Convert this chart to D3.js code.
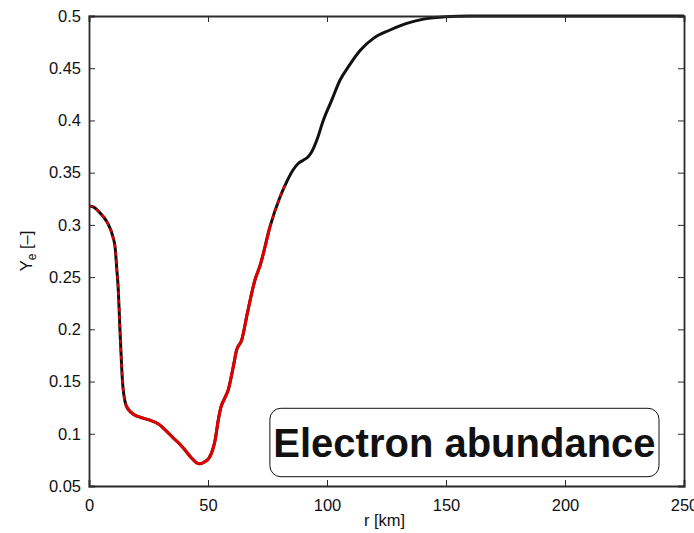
<!DOCTYPE html>
<html>
<head>
<meta charset="utf-8">
<script src="https://cdn.jsdelivr.net/npm/d3@7"></script>
<style>
  html, body { margin: 0; padding: 0; background: #fff; }
  svg { display: block; }
  text { font-family: "Liberation Sans", Arial, Helvetica, sans-serif; fill: #111; }
</style>
</head>
<body>
<svg id="chart" width="694" height="533"></svg>
<script>
// Radius [km] and electron fraction Y_e along the profile
const radius = [0, 2, 4, 6, 8, 10, 11, 11.6, 12.3, 13, 13.6, 14.1, 14.8, 15.6, 17, 18.5,
  22, 25.6, 29, 31, 33, 35.4, 38, 40.3, 43, 45, 46.6, 48.5, 50.5, 52, 53, 54.3, 55.5,
  57, 58.5, 60.6, 62, 64.2, 66.5, 69.7, 72, 76, 80.3, 83, 85.8, 88, 90, 92, 93.6, 95.7,
  98.5, 102, 105.5, 109, 113.9, 119.5, 126.5, 133.5, 140.5, 150, 160, 180, 250];
const ye = [0.318, 0.317, 0.313, 0.308, 0.301, 0.289, 0.278, 0.26, 0.238, 0.20, 0.17, 0.149,
  0.135, 0.127, 0.122, 0.119, 0.1155, 0.113, 0.1095, 0.106, 0.1015, 0.096, 0.0905, 0.0845,
  0.077, 0.0725, 0.0712, 0.073, 0.077, 0.085, 0.094, 0.113, 0.126, 0.134, 0.142, 0.164,
  0.18, 0.19, 0.215, 0.247, 0.262, 0.298, 0.327, 0.341, 0.3528, 0.359, 0.362, 0.365, 0.37,
  0.381, 0.4004, 0.4195, 0.4387, 0.4515, 0.467, 0.4786, 0.4866, 0.493, 0.497, 0.4993,
  0.4999, 0.5, 0.5];

// Radial ranges of the overlaid red trace
const redSolidRange = [15, 76];
const redDashedRanges = [[0, 15.6], [76, 83]];

const xTicks = [0, 50, 100, 150, 200, 250];
const yTicks = [0.05, 0.1, 0.15, 0.2, 0.25, 0.3, 0.35, 0.4, 0.45, 0.5];
const xLabel = "r [km]";
const annotation = "Electron abundance";

const svg = d3.select("#chart");
const m = { left: 89, top: 16, right: 684, bottom: 486 };

const x = d3.scaleLinear().domain([0, 250]).range([m.left, m.right]);
const y = d3.scaleLinear().domain([0.05, 0.5]).range([m.bottom, m.top]);

const pts = radius.map((r, i) => ({ r, v: ye[i] }));
const line = d3.line().x(d => x(d.r)).y(d => y(d.v)).curve(d3.curveMonotoneX);
const within = ([a, b]) => pts.filter(d => d.r >= a && d.r <= b);

const plot = svg.append("g");
plot.append("defs").append("clipPath").attr("id", "clip")
  .append("rect").attr("x", m.left).attr("y", m.top - 2)
  .attr("width", m.right - m.left).attr("height", m.bottom - m.top + 2);

const curves = plot.append("g").attr("clip-path", "url(#clip)");
curves.append("path").datum(pts).attr("d", line)
  .attr("fill", "none").attr("stroke", "#111").attr("stroke-width", 3)
  .attr("stroke-linejoin", "round");
curves.append("path").datum(within(redSolidRange)).attr("d", line)
  .attr("fill", "none").attr("stroke", "#e00000").attr("stroke-width", 3)
  .attr("stroke-linejoin", "round");
redDashedRanges.forEach(rg => {
  curves.append("path").datum(within(rg)).attr("d", line)
    .attr("fill", "none").attr("stroke", "#e00000").attr("stroke-width", 2.4)
    .attr("stroke-dasharray", "4,4");
});

// Axes: MATLAB-style box with inward ticks on every side
const axisColor = "#2a2a2a";
const fs = 16.5;
const axBottom = svg.append("g").attr("transform", `translate(0,${m.bottom})`)
  .call(d3.axisBottom(x).tickValues(xTicks).tickSize(-6).tickPadding(10)
    .tickFormat(d3.format("d")));
const axTop = svg.append("g").attr("transform", `translate(0,${m.top})`)
  .call(d3.axisTop(x).tickValues(xTicks).tickSize(-6).tickFormat(""));
const axLeft = svg.append("g").attr("transform", `translate(${m.left},0)`)
  .call(d3.axisLeft(y).tickValues(yTicks).tickSize(-6).tickPadding(10)
    .tickFormat(d => String(+d.toFixed(2))));
const axRight = svg.append("g").attr("transform", `translate(${m.right},0)`)
  .call(d3.axisRight(y).tickValues(yTicks).tickSize(-6).tickFormat(""));

[axBottom, axTop, axLeft, axRight].forEach(g => {
  g.select(".domain").attr("stroke", axisColor).attr("stroke-width", 1.8);
  g.selectAll(".tick line").attr("stroke", axisColor).attr("stroke-width", 1);
  g.selectAll(".tick text").attr("font-size", fs).attr("fill", "#111")
    .attr("font-family", "'Liberation Sans', Arial, sans-serif");
});
axBottom.selectAll(".tick text").attr("dy", "0.9em");
axLeft.selectAll(".tick text").attr("dx", "2");

// Axis titles
svg.append("text").attr("x", (m.left + m.right) / 2 - 2).attr("y", 526)
  .attr("text-anchor", "middle").attr("font-size", fs).text(xLabel);

const yl = svg.append("text")
  .attr("transform", `translate(32,${(m.top + m.bottom) / 2}) rotate(-90)`)
  .attr("text-anchor", "middle").attr("font-size", fs);
yl.append("tspan").text("Y");
yl.append("tspan").attr("font-size", 12).attr("dy", 4).text("e");
yl.append("tspan").attr("dy", -4).text(" [\u2013]");

// Annotation box
const box = { x0: x(76), y0: y(0.1244), x1: x(239.5), y1: y(0.0589) };
svg.append("rect").attr("x", box.x0).attr("y", box.y0)
  .attr("width", box.x1 - box.x0).attr("height", box.y1 - box.y0)
  .attr("rx", 11).attr("ry", 11)
  .attr("fill", "#fff").attr("stroke", "#111").attr("stroke-width", 1);
svg.append("text").attr("x", (box.x0 + box.x1) / 2).attr("y", 457)
  .attr("text-anchor", "middle").attr("font-size", 40).attr("font-weight", "bold")
  .attr("fill", "#000").text(annotation);
</script>
</body>
</html>
